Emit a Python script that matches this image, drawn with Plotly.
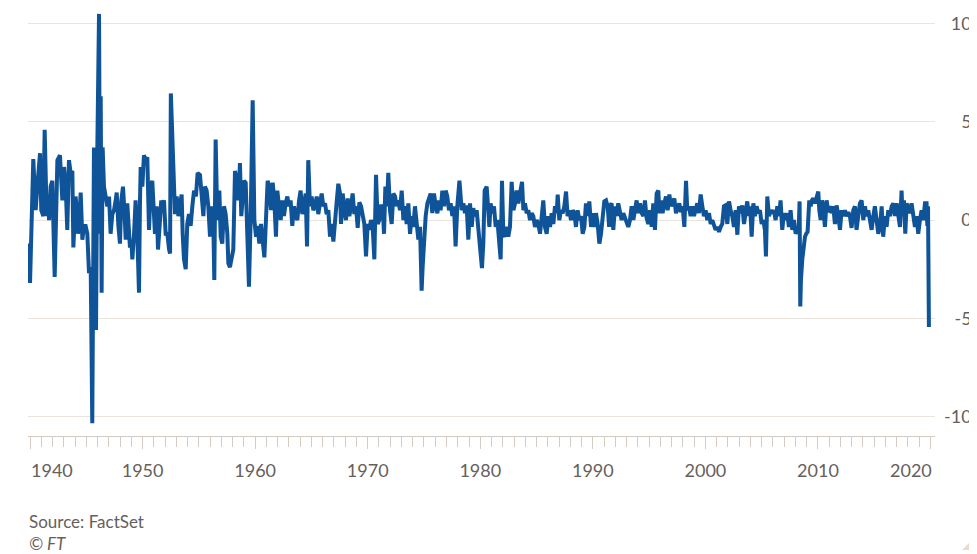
import plotly.graph_objects as go

# ---------------- data (monthly % change) ----------------
dates_1939_1952 = [
    1939.82, 1940.0, 1940.29, 1940.5, 1940.65, 1940.89, 1941.0, 1941.18, 1941.3, 1941.48,
    1941.6, 1941.69, 1941.83, 1941.98, 1942.19, 1942.34, 1942.43, 1942.66, 1942.78, 1942.87,
    1943.02, 1943.17, 1943.31, 1943.46, 1943.61, 1943.76, 1943.85, 1943.97, 1944.05, 1944.2,
    1944.26, 1944.44, 1944.5, 1944.65, 1944.79, 1944.94, 1945.09, 1945.24, 1945.39, 1945.53,
    1945.62, 1945.68, 1945.77, 1945.86, 1945.98, 1946.13, 1946.22, 1946.28, 1946.36, 1946.45,
    1946.57, 1946.72, 1946.87, 1947.02, 1947.16, 1947.31, 1947.46, 1947.61, 1947.7, 1947.85,
    1947.99, 1948.11, 1948.26, 1948.41, 1948.5, 1948.64, 1948.79, 1948.88, 1949.0, 1949.09,
    1949.24, 1949.38, 1949.53, 1949.68, 1949.77, 1949.83, 1949.98, 1950.12, 1950.27, 1950.42,
    1950.57, 1950.72, 1950.86, 1951.01, 1951.1, 1951.25, 1951.37, 1951.55, 1951.66, 1951.75,
    1951.9, 1952.05, 1952.2, 1952.35, 1952.44, 1952.51,
]
values_1939_1952 = [
    -1.2, -3.2, 3.1, 0.5, 1.7, 3.4, 0.5, 0.2, 4.6, 0.2,
    1.2, 0.0, 1.7, 2.0, -2.9, 0.3, 3.05, 3.3, 2.2, 1.0,
    2.7, 1.7, -0.5, 3.05, 2.4, 2.5, -1.4, 1.0, 1.2, 0.2,
    -0.7, 0.7, 1.4, -1.0, -0.3, -0.3, -0.7, -2.7, -2.4, -10.35,
    -4.1, 3.7, -0.7, -5.6, 3.7, 10.5, -0.7, 6.3, -3.7, 3.7,
    1.7, 1.0, 0.7, 1.2, -0.7, 0.3, 0.5, 1.0, 1.4, -0.3,
    -1.2, 1.0, 1.7, 0.2, -1.0, 0.85, -0.7, -1.4, -1.0, -2.0,
    -0.7, 1.0, -0.7, -3.7, 1.0, 2.7, 1.7, 3.3, 3.05, 3.2,
    -0.5, 1.7, 2.0, 0.2, -0.7, 0.7, -1.5, 0.0, 1.0, 0.7,
    1.0, -0.7, -0.7, -1.5, -1.7, 6.45,
]

dates_1952_1965 = [
    1952.73, 1952.88, 1953.03, 1953.18, 1953.32, 1953.47, 1953.56, 1953.68, 1953.83, 1953.97,
    1954.12, 1954.27, 1954.42, 1954.57, 1954.74, 1954.89, 1955.1, 1955.25, 1955.4, 1955.54,
    1955.69, 1955.84, 1955.99, 1956.14, 1956.28, 1956.37, 1956.49, 1956.64, 1956.82, 1956.94,
    1957.08, 1957.23, 1957.38, 1957.53, 1957.62, 1957.76, 1957.91, 1958.06, 1958.21, 1958.36,
    1958.51, 1958.65, 1958.77, 1958.89, 1959.01, 1959.16, 1959.31, 1959.45, 1959.6, 1959.78,
    1959.93, 1960.08, 1960.22, 1960.37, 1960.52, 1960.67, 1960.82, 1960.96, 1961.11, 1961.26,
    1961.41, 1961.56, 1961.7, 1961.85, 1961.97, 1962.12, 1962.27, 1962.41, 1962.56, 1962.71,
    1962.86, 1963.01, 1963.15, 1963.3, 1963.45, 1963.6, 1963.75, 1963.9, 1964.04, 1964.19,
    1964.34, 1964.49, 1964.61, 1964.72, 1964.87, 1965.02, 1965.17,
]
values_1952_1965 = [
    2.0, 0.3, 1.2, 0.2, 0.7, 1.3, -0.7, -2.0, -2.5, -0.2,
    0.3, -0.3, 0.7, 1.5, 1.2, 2.4, 2.3, 1.2, 0.2, 1.7,
    1.5, 0.7, -0.85, 0.7, 0.0, -3.05, 4.1, 0.0, 1.5, -0.85,
    -1.2, 0.7, 0.3, -0.7, -2.2, -2.4, -2.0, -1.5, 2.5, 2.0,
    1.0, 2.9, 0.2, 1.5, 2.0, 1.9, -0.7, -3.4, 0.0, 6.1,
    0.0, -0.85, -0.3, -1.2, -0.2, -1.0, -1.9, 0.0, 2.0, 1.7,
    0.5, 1.9, 1.0, -0.85, 1.5, 0.7, 0.0, 1.0, 0.2, 0.85,
    1.2, 0.7, 1.0, -0.3, 0.7, 0.2, 0.0, 1.0, 1.5, 0.3,
    0.7, 1.35, -1.35, 3.05, 0.7, 1.2, 0.5,
]

dates_1965_1978 = [
    1965.32, 1965.47, 1965.61, 1965.76, 1965.91, 1966.06, 1966.21, 1966.35, 1966.5, 1966.65,
    1966.8, 1966.95, 1967.1, 1967.24, 1967.39, 1967.54, 1967.63, 1967.78, 1967.92, 1968.07,
    1968.22, 1968.37, 1968.52, 1968.66, 1968.81, 1968.96, 1969.11, 1969.26, 1969.41, 1969.55,
    1969.7, 1969.85, 1970.0, 1970.14, 1970.29, 1970.44, 1970.59, 1970.74, 1970.89, 1971.03,
    1971.18, 1971.33, 1971.45, 1971.57, 1971.71, 1971.83, 1971.98, 1972.13, 1972.28, 1972.43,
    1972.57, 1972.72, 1972.87, 1973.02, 1973.17, 1973.31, 1973.46, 1973.61, 1973.76, 1973.91,
    1974.05, 1974.2, 1974.35, 1974.5, 1974.65, 1974.73, 1974.79, 1974.88, 1975.0, 1975.15,
    1975.3, 1975.45, 1975.59, 1975.74, 1975.89, 1976.04, 1976.19, 1976.33, 1976.48, 1976.63,
    1976.78, 1976.93, 1977.07, 1977.22, 1977.37, 1977.52, 1977.67, 1977.81, 1977.96,
]
values_1965_1978 = [
    0.7, 1.2, 0.3, 1.0, 1.35, 0.7, 0.85, 0.3, 0.5, -0.85,
    -0.2, -1.1, 0.2, 0.9, 1.85, 1.35, -0.2, 1.35, 0.5, 0.0,
    1.1, 0.2, 0.7, 1.35, 0.3, 0.7, -0.4, 0.9, 0.7, 0.2,
    -0.2, -1.85, -0.2, -0.5, 0.0, -0.35, -2.0, 2.3, -0.2, 0.0,
    0.7, 0.7, -0.7, 1.7, 0.7, 2.4, 0.5, -0.2, 1.35, 1.2,
    0.7, 1.0, 0.5, 1.5, 0.0, 0.7, -0.2, 0.85, -0.7, 0.2,
    -0.35, 0.7, 0.0, -1.0, -0.35, -2.7, -3.6, -2.4, -0.7, 0.2,
    0.85, 1.2, 1.35, 0.35, 1.35, 0.7, 0.35, 1.0, 0.5, 1.5,
    0.7, 1.5, 1.2, 0.5, 0.85, 0.2, 0.7, -1.35, 0.7,
]

dates_1978_1991 = [
    1978.15, 1978.35, 1978.5, 1978.64, 1978.79, 1978.94, 1979.09, 1979.24, 1979.38, 1979.53,
    1979.68, 1979.83, 1979.98, 1980.15, 1980.27, 1980.39, 1980.57, 1980.69, 1980.81, 1980.92,
    1981.07, 1981.22, 1981.37, 1981.52, 1981.66, 1981.81, 1981.93, 1982.05, 1982.2, 1982.35,
    1982.49, 1982.64, 1982.79, 1982.94, 1983.09, 1983.23, 1983.38, 1983.53, 1983.71, 1983.83,
    1983.97, 1984.12, 1984.27, 1984.42, 1984.57, 1984.71, 1984.86, 1985.01, 1985.16, 1985.31,
    1985.46, 1985.6, 1985.75, 1985.9, 1986.05, 1986.2, 1986.34, 1986.49, 1986.64, 1986.79,
    1986.88, 1987.02, 1987.17, 1987.32, 1987.47, 1987.62, 1987.76, 1987.91, 1988.06, 1988.21,
    1988.36, 1988.5, 1988.65, 1988.8, 1988.95, 1989.1, 1989.25, 1989.39, 1989.54, 1989.69,
    1989.84, 1989.99, 1990.13, 1990.28, 1990.43, 1990.58, 1990.73, 1990.87,
]
values_1978_1991 = [
    2.0, 0.5, 0.85, 0.35, 0.75, -1.0, 0.85, -0.35, 0.6, 0.2,
    0.5, -0.35, -1.0, -2.45, -1.2, 1.5, 1.7, 0.35, -0.35, 0.85,
    0.35, 0.7, -0.35, 0.0, -1.0, -2.0, 2.0, -0.7, -0.85, -0.35,
    -0.85, -0.35, 1.95, 0.5, 0.85, 1.5, 0.85, 1.5, 1.95, 0.5,
    0.85, 0.35, 0.5, 0.0, 0.35, 0.2, -0.35, 0.0, -0.2, -0.7,
    0.0, 1.0, -0.35, -0.7, 0.2, -0.35, 0.35, -0.2, 0.7, 0.35,
    1.3, 0.0, 0.5, 0.35, 0.7, 1.45, 0.2, 0.5, 0.0, 0.5,
    0.35, -0.35, 0.5, 0.0, 0.2, -0.7, -0.35, 0.85, 0.2, 0.95,
    -0.35, 0.35, -0.35, 0.35, -0.2, -1.2, -0.7, 0.2,
]

dates_1991_2004 = [
    1991.02, 1991.17, 1991.32, 1991.45, 1991.52, 1991.67, 1991.82, 1991.97, 1992.12, 1992.26,
    1992.41, 1992.56, 1992.71, 1992.86, 1993.0, 1993.15, 1993.3, 1993.45, 1993.6, 1993.75,
    1993.89, 1994.04, 1994.19, 1994.34, 1994.49, 1994.63, 1994.78, 1994.93, 1995.08, 1995.23,
    1995.37, 1995.52, 1995.67, 1995.82, 1995.91, 1996.05, 1996.2, 1996.35, 1996.5, 1996.65,
    1996.8, 1996.94, 1997.09, 1997.24, 1997.39, 1997.54, 1997.68, 1997.83, 1997.98, 1998.13,
    1998.28, 1998.39, 1998.54, 1998.69, 1998.84, 1998.99, 1999.13, 1999.28, 1999.43, 1999.58,
    1999.73, 1999.87, 2000.02, 2000.17, 2000.32, 2000.47, 2000.61, 2000.76, 2000.91, 2001.06,
    2001.21, 2001.36, 2001.5, 2001.65, 2001.8, 2001.95, 2002.1, 2002.24, 2002.39, 2002.54,
    2002.69, 2002.84, 2002.98, 2003.13, 2003.28, 2003.43, 2003.58, 2003.72, 2003.87,
]
values_1991_2004 = [
    0.95, 1.0, 0.7, -0.35, 0.7, 0.85, -0.5, 0.7, 0.2, 0.85,
    0.35, 0.0, 0.35, 0.1, -0.2, -0.35, 0.0, 0.7, 0.0, 0.5,
    1.0, 0.35, 0.85, 0.35, 0.2, 1.0, 0.1, -0.2, 0.5, -0.35,
    0.85, -0.5, 1.35, 1.5, 0.35, 1.0, 0.35, 0.85, 1.2, 0.5,
    1.3, 0.7, 0.95, 1.1, 0.35, 0.7, 0.85, 0.4, 0.7, -0.35,
    2.0, 0.5, 0.7, 0.2, 0.7, 0.2, 0.5, 0.85, 0.35, 1.3,
    0.7, 0.2, 0.5, 0.0, 0.35, -0.2, 0.0, -0.35, -0.5, -0.35,
    -0.6, -0.35, -0.2, 0.7, 0.75, -0.2, 0.95, 0.5, 0.2, -0.35,
    0.5, -0.75, 0.7, 0.35, 0.75, -0.2, 0.5, 0.95, 0.2,
]

dates_2004_2020 = [
    2003.98, 2004.11, 2004.26, 2004.4, 2004.55, 2004.7, 2004.85, 2005.0, 2005.14, 2005.29,
    2005.38, 2005.5, 2005.65, 2005.8, 2005.94, 2006.09, 2006.24, 2006.39, 2006.54, 2006.68,
    2006.83, 2006.98, 2007.13, 2007.28, 2007.42, 2007.57, 2007.72, 2007.87, 2008.02, 2008.16,
    2008.29, 2008.37, 2008.43, 2008.49, 2008.61, 2008.73, 2008.85, 2008.96, 2009.08, 2009.23,
    2009.35, 2009.47, 2009.59, 2009.73, 2009.88, 2010.03, 2010.12, 2010.24, 2010.36, 2010.47,
    2010.62, 2010.77, 2010.92, 2011.07, 2011.21, 2011.36, 2011.51, 2011.66, 2011.81, 2011.96,
    2012.1, 2012.25, 2012.4, 2012.55, 2012.7, 2012.84, 2012.99, 2013.14, 2013.29, 2013.43,
    2013.58, 2013.73, 2013.88, 2014.03, 2014.18, 2014.32, 2014.47, 2014.62, 2014.77, 2014.92,
    2015.06, 2015.21, 2015.36, 2015.51, 2015.66, 2015.8, 2015.95, 2016.1, 2016.25, 2016.4,
    2016.55, 2016.69, 2016.84, 2016.99, 2017.14, 2017.29, 2017.43, 2017.52, 2017.64, 2017.76,
    2017.88, 2018.03, 2018.17, 2018.32, 2018.47, 2018.62, 2018.77, 2018.91, 2019.06, 2019.21,
    2019.36, 2019.51, 2019.65, 2019.72, 2019.78, 2019.86,
]
values_2004_2020 = [
    0.7, -0.85, 0.85, 0.2, 0.7, 0.35, 0.5, -0.2, 0.0, -0.5,
    -1.85, 1.2, 0.2, 0.5, 0.35, 0.5, 0.0, 0.7, 0.2, 1.0,
    -0.5, 0.35, 0.0, 0.35, -0.35, 0.5, -0.5, 0.0, -0.7, -0.5,
    -0.5, 0.95, -4.4, -3.05, -2.0, -1.35, -0.85, -0.7, -0.6, 1.0,
    0.7, 1.0, 1.1, 0.85, 1.2, 1.45, 0.5, 0.0, 1.0, 0.7,
    -0.35, 1.0, 0.4, 0.7, 0.35, 0.7, -0.2, 0.75, 0.2, -0.5,
    0.5, 0.2, 0.5, 0.2, 0.4, 0.2, -0.4, 0.5, 0.7, -0.5,
    0.2, 0.85, 1.0, 0.0, 0.7, 0.2, 0.5, 0.0, -0.5, 0.2,
    0.7, 0.0, -0.7, -0.35, 0.7, -0.85, 0.2, -0.35, 0.5, 0.2,
    0.7, 0.85, 0.2, 0.85, 0.0, -0.35, 1.5, 0.2, 1.0, -0.7,
    0.85, 0.5, 0.35, 0.85, 0.35, -0.35, 0.2, -0.7, 0.0, 0.5,
    0.0, 0.85, 0.85, -0.3, 0.7, -5.45,
]

dates = (dates_1939_1952 + dates_1952_1965 + dates_1965_1978
         + dates_1978_1991 + dates_1991_2004 + dates_2004_2020)
values = (values_1939_1952 + values_1952_1965 + values_1965_1978
          + values_1978_1991 + values_1991_2004 + values_2004_2020)

FS = "\u2007"   # figure space (digit width)
TS = "\u2009"   # thin space
x_ticks = [1940, 1950, 1960, 1970, 1980, 1990, 2000, 2010, 2020]
# first and last year labels are edge-aligned (drawn as annotations below)
x_labels = ["", "1950", "1960", "1970", "1980", "1990", "2000", "2010", ""]
x_first, x_last = x_ticks[0], x_ticks[-1]
y_ticks = [-10, -5, 0, 5, 10]
y_labels = ["-10", FS + "-5", FS + TS * 3 + "0", FS + TS * 3 + "5", TS * 3 + "10"]

source_text = "Source: FactSet"
credit_text = "<i>© FT</i>"

# ---------------- styling ----------------
LINE = "#0f5499"
GRID = "#ebe4dd"
TEXT = "#66605c"
AXIS = "#d4cbc3"
FONT = "Lato, Roboto, sans-serif"

fig = go.Figure()
fig.add_trace(go.Scatter(
    x=dates, y=values, mode="lines",
    line=dict(color=LINE, width=4, shape="linear"),
    hoverinfo="skip", showlegend=False,
))

# the page body adds an 8px offset, so the figure is 8px smaller than the window
fig.update_layout(
    width=969, height=546,
    margin=dict(l=20, r=42, t=0, b=118, autoexpand=False),
    paper_bgcolor="white", plot_bgcolor="white",
    font=dict(family=FONT, size=18, color=TEXT),
    showlegend=False,
)

fig.update_xaxes(
    range=[1939.82, 2020.40], automargin=False,
    tickmode="array", tickvals=x_ticks, ticktext=x_labels,
    ticks="outside", ticklen=12, tickwidth=1, tickcolor=AXIS,
    showline=True, linecolor=AXIS, linewidth=1,
    showgrid=False, zeroline=False,
    ticklabelstandoff=6,
    tickfont=dict(family=FONT, size=18, color=TEXT),
    minor=dict(dtick=1, tick0=1940, ticks="outside", ticklen=10,
               tickcolor=AXIS, tickwidth=1, showgrid=False),
)

fig.update_yaxes(
    range=[-11.0, 10.8], side="right", automargin=False,
    tickmode="array", tickvals=y_ticks, ticktext=y_labels,
    showgrid=True, gridcolor=GRID, gridwidth=1,
    zeroline=False, ticks="", showline=False,
    ticklabelstandoff=8, ticklabeloverflow="allow",
    tickfont=dict(family=FONT, size=18, color=TEXT),
)

# edge-aligned first/last year labels, placed at their tick years
fig.add_annotation(
    text=str(x_first), xref="x", yref="paper", x=x_first, y=-0.079,
    xanchor="left", yanchor="middle", showarrow=False, xshift=-1,
    font=dict(family=FONT, size=18, color=TEXT),
)
fig.add_annotation(
    text=str(x_last), xref="x", yref="paper", x=x_last, y=-0.079,
    xanchor="right", yanchor="middle", showarrow=False, xshift=3,
    font=dict(family=FONT, size=18, color=TEXT),
)

fig.add_annotation(
    text=source_text, xref="paper", yref="paper",
    x=-0.001, y=-0.199, xanchor="left", yanchor="middle",
    showarrow=False, font=dict(family=FONT, size=17, color=TEXT),
)
fig.add_annotation(
    text=credit_text, xref="paper", yref="paper",
    x=-0.001, y=-0.252, xanchor="left", yanchor="middle",
    showarrow=False, font=dict(family=FONT, size=17, color=TEXT),
)

# small decorative corner mark (bottom right)
fig.add_shape(
    type="path", xref="paper", yref="paper",
    path="M 1.0441,-0.2360 L 1.0441,-0.2664 L 1.0298,-0.2664 Z",
    fillcolor="#e6dbd1", line=dict(width=0),
)

fig.write_html("out.html")
